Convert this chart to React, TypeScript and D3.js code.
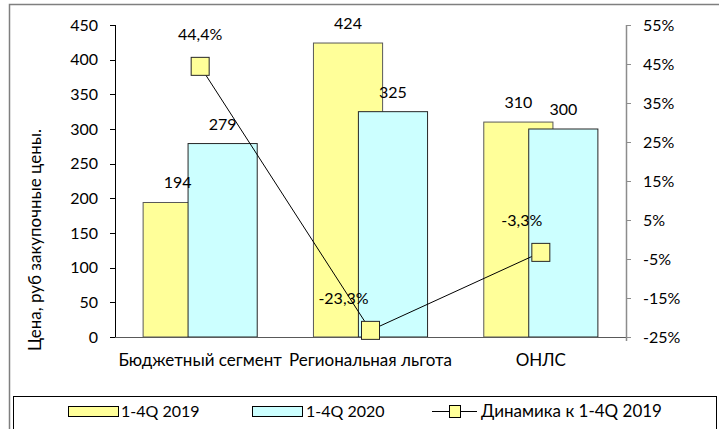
import React from "react";
import * as d3 from "d3";

const categories = ["Бюджетный сегмент", "Региональная льгота", "ОНЛС"];
const series2019 = [194, 424, 310];
const series2020 = [279, 325, 300];
const dynamics = [0.444, -0.233, -0.033];
const dynamicsLabels = ["44,4%", "-23,3%", "-3,3%"];
const leftTicks = [0, 50, 100, 150, 200, 250, 300, 350, 400, 450];
const rightTicks = [-0.25, -0.15, -0.05, 0.05, 0.15, 0.25, 0.35, 0.45, 0.55];
const rightTickLabels = ["-25%", "-15%", "-5%", "5%", "15%", "25%", "35%", "45%", "55%"];
const legendLabels = ["1-4Q 2019", "1-4Q 2020", "Динамика к 1-4Q 2019"];
const yTitle = "Цена, руб закупочные цены.";

// label nudges for the line series (manual placement in the original)
const dynLabelDx = [0, -27, -19];

const W = 719;
const H = 429;
const FONT = "Lato, 'Open Sans', sans-serif";
const YELLOW = "#FFFF99";
const CYAN = "#CCFFFF";
const NUM = 16;
const TXT = 17;

export default function App() {
  const plotL = 115;
  const plotR = 626;
  const plotT = 25;
  const plotB = 337;

  const x = d3.scaleBand<string>().domain(categories).range([plotL, plotR]).paddingInner(0).paddingOuter(0);
  const yL = d3.scaleLinear().domain([0, 450]).range([plotB, plotT]);
  const yR = d3.scaleLinear().domain([-0.25, 0.55]).range([plotB, plotT]);

  const bw = x.bandwidth();
  const barW = bw * 0.406;
  const shift = barW * 0.65;
  const gap = (bw - barW - shift) / 2;

  const lineGen = d3
    .line<number>()
    .x((_, i) => (x(categories[i]) as number) + bw / 2)
    .y((d) => yR(d));

  const markerSize = 18;

  return (
    <div style={{ position: "fixed", left: 0, top: 0 }}>
      <svg width={W} height={H} style={{ display: "block", fontFamily: FONT }}>
        <rect x={0} y={0} width={W} height={H} fill="#fff" />
        {/* outer frame */}
        <path d={`M9.5,${H} V4.5 H${W}`} fill="none" stroke="#7f7f7f" strokeWidth={1.5} />

        {/* bars */}
        {categories.map((c, i) => {
          const x0 = (x(c) as number) + gap;
          return (
            <g key={c}>
              <rect
                x={x0}
                y={yL(series2019[i])}
                width={barW}
                height={plotB - yL(series2019[i])}
                fill={YELLOW}
                stroke="#595959"
                strokeWidth={1}
              />
              <rect
                x={x0 + shift}
                y={yL(series2020[i])}
                width={barW}
                height={plotB - yL(series2020[i])}
                fill={CYAN}
                stroke="#262626"
                strokeWidth={1}
              />
              <text x={x0 + barW / 2} y={yL(series2019[i]) - 14} fontSize={NUM} textAnchor="middle" fill="#000">
                {series2019[i]}
              </text>
              <text x={x0 + shift + barW / 2} y={yL(series2020[i]) - 14} fontSize={NUM} textAnchor="middle" fill="#000">
                {series2020[i]}
              </text>
            </g>
          );
        })}

        {/* left axis */}
        <line x1={plotL + 0.5} x2={plotL + 0.5} y1={plotT} y2={plotB} stroke="#000" strokeWidth={1} />
        {leftTicks.map((t) => (
          <g key={t}>
            <line x1={plotL - 5} x2={plotL} y1={Math.round(yL(t)) + 0.5} y2={Math.round(yL(t)) + 0.5} stroke="#000" />
            <text x={98} y={yL(t) + 5.5} fontSize={NUM} textAnchor="end" fill="#000">
              {t}
            </text>
          </g>
        ))}
        {/* x axis */}
        <line x1={plotL} x2={plotR} y1={plotB + 0.5} y2={plotB + 0.5} stroke="#595959" strokeWidth={1} />
        {categories.map((c) => (
          <text key={c} x={(x(c) as number) + bw / 2} y={366} fontSize={TXT} textAnchor="middle" fill="#000">
            {c}
          </text>
        ))}

        {/* right axis */}
        <line x1={plotR + 0.5} x2={plotR + 0.5} y1={plotT} y2={plotB + 4} stroke="#8c8c8c" strokeWidth={1.5} />
        {rightTicks.map((t, i) => (
          <g key={t}>
            <line x1={plotR} x2={plotR + 5} y1={Math.round(yR(t)) + 0.5} y2={Math.round(yR(t)) + 0.5} stroke="#8c8c8c" />
            <text x={643} y={yR(t) + 5.5} fontSize={NUM} textAnchor="start" fill="#000">
              {rightTickLabels[i]}
            </text>
          </g>
        ))}

        {/* y title */}
        <text transform={`translate(41, 240) rotate(-90)`} fontSize={TXT} textAnchor="middle" fill="#000">
          {yTitle}
        </text>

        {/* line series */}
        <path d={lineGen(dynamics) || ""} fill="none" stroke="#000" strokeWidth={1} />
        {dynamics.map((v, i) => {
          const cx = (x(categories[i]) as number) + bw / 2;
          const cy = yR(v);
          return (
            <g key={i}>
              <rect
                x={cx - markerSize / 2}
                y={cy - markerSize / 2}
                width={markerSize}
                height={markerSize}
                fill={YELLOW}
                stroke="#262626"
                strokeWidth={1}
              />
              <text x={cx + dynLabelDx[i]} y={cy - 26} fontSize={NUM} textAnchor="middle" fill="#000">
                {dynamicsLabels[i]}
              </text>
            </g>
          );
        })}

        {/* legend */}
        <rect x={13.5} y={396.5} width={703} height={50} fill="#fff" stroke="#000" strokeWidth={1} />
        <rect x={68.5} y={406.5} width={50} height={10} fill={YELLOW} stroke="#000" />
        <text x={121} y={417} fontSize={NUM} fill="#000">
          {legendLabels[0]}
        </text>
        <rect x={252.5} y={406.5} width={50} height={10} fill={CYAN} stroke="#000" />
        <text x={306} y={417} fontSize={NUM} fill="#000">
          {legendLabels[1]}
        </text>
        <line x1={432} x2={477} y1={411.5} y2={411.5} stroke="#000" />
        <rect x={449.5} y={405.5} width={11} height={12} fill={YELLOW} stroke="#000" />
        <text x={481} y={417} fontSize={TXT} fill="#000">
          {legendLabels[2]}
        </text>
      </svg>
    </div>
  );
}
